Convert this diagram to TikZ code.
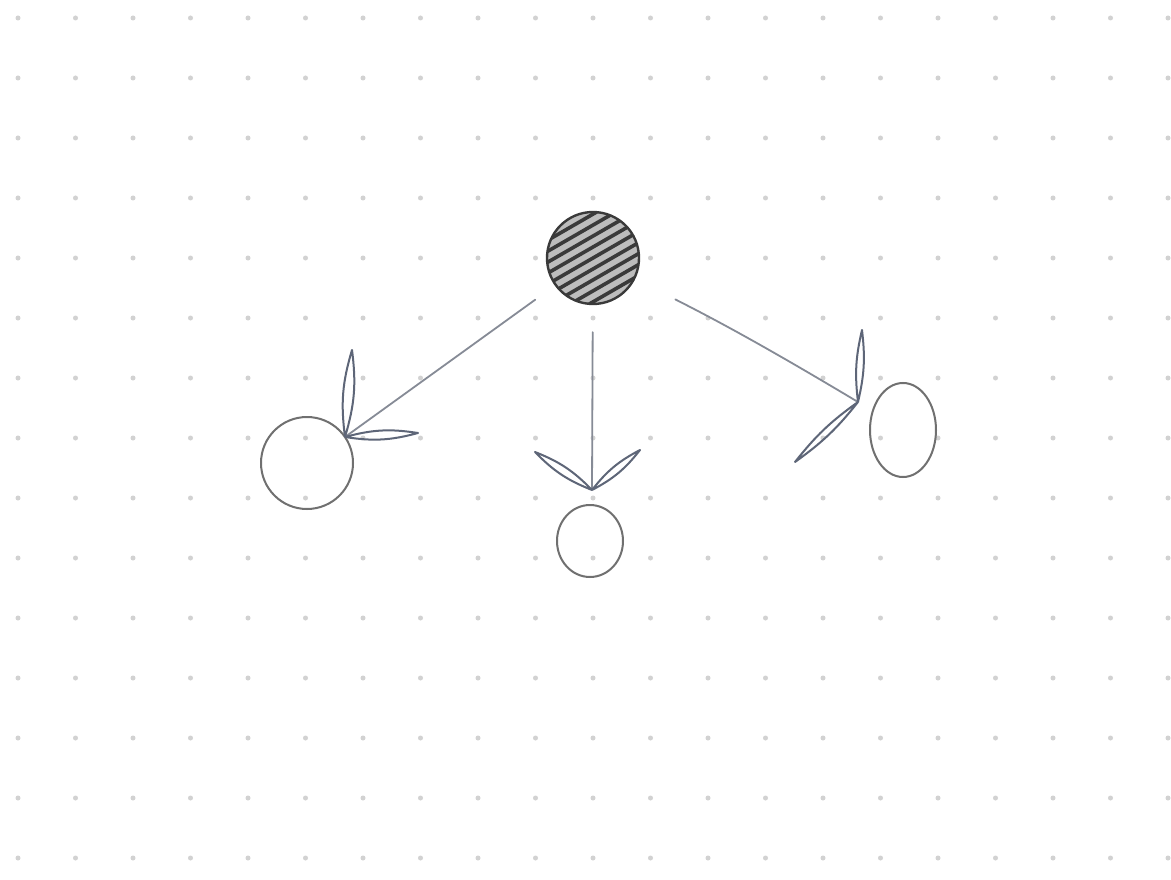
\documentclass[tikz,border=0pt]{standalone}
\usetikzlibrary{shapes.geometric}
\definecolor{dotc}{HTML}{D2D2D2}
\definecolor{ink}{HTML}{707070}
\definecolor{pen}{HTML}{868B96}
\definecolor{barbc}{HTML}{5E6678}
\definecolor{dark}{HTML}{3A3A3A}
\definecolor{hatchbg}{HTML}{BDBDBD}
\begin{document}
\begin{tikzpicture}[x=1pt,y=-1pt,
  sketch/.style={draw=ink, line width=2pt, inner sep=0pt},
  conn/.style={draw=pen, line width=1.8pt, line cap=round},
  barb/.style={draw=barbc, line width=2pt, line join=round}]
\fill[white] (0,0) rectangle (1171,880);
\useasboundingbox (0,0) rectangle (1171,880);
% dot grid
\foreach \i in {0,...,20}
  \foreach \j in {0,...,14}
    \fill[dotc] (18+57.5*\i, 18+60*\j) circle (2.5pt);
% hatched source node
\node[circle, fill=hatchbg, minimum size=92pt, inner sep=0pt] (src) at (593,258) {};
\begin{scope}
  \clip (593,258) circle (46pt);
  \begin{scope}[shift={(593,258)}, rotate=30]
    \foreach \k in {-5,...,5}
      \draw[dark, line width=3.6pt] (-60,\k*9.5) -- (60,\k*9.5);
  \end{scope}
\end{scope}
\draw[dark, line width=2.4pt] (src.center) circle (46pt);
% target nodes
\node[sketch, circle, minimum size=92pt] (a) at (307,463) {};
\node[sketch, ellipse, minimum width=66pt, minimum height=72pt] (b) at (590,541) {};
\node[sketch, ellipse, minimum width=66pt, minimum height=94pt] (c) at (903,430) {};
% arrow tips
\coordinate (ta) at (345,437);
\coordinate (tb) at (592,490);
\coordinate (tc) at (858,402);
\coordinate (ta1) at (352,350);
\coordinate (ta2) at (418,433);
\coordinate (tb1) at (535,452);
\coordinate (tb2) at (640,450);
\coordinate (tc1) at (862,330);
\coordinate (tc2) at (795,462);
% connectors
\draw[conn, shorten <=25pt] (src) -- (ta);
\draw[conn, shorten <=28pt] (src) -- (tb);
\draw[conn, shorten <=46pt] (src) to[bend left=2] (tc);
% barbs
\draw[barb] (ta) to[bend left=12] (ta1) to[bend left=12] (ta);
\draw[barb] (ta) to[bend left=12] (ta2) to[bend left=12] (ta);
\draw[barb] (tb) to[bend left=12] (tb1) to[bend left=12] (tb);
\draw[barb] (tb) to[bend left=12] (tb2) to[bend left=12] (tb);
\draw[barb] (tc) to[bend left=10] (tc1) to[bend left=10] (tc);
\draw[barb] (tc) to[bend left=8] (tc2) to[bend left=8] (tc);
\end{tikzpicture}
\end{document}
